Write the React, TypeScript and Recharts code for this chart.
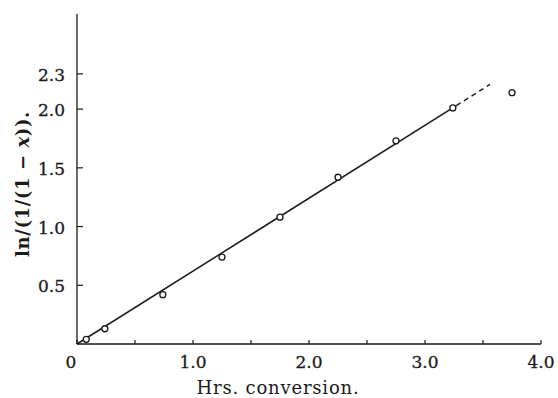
import React from "react";
import { Scatter, ScatterChart, XAxis, YAxis } from "recharts";

// measured points
const hours = [0.08, 0.24, 0.74, 1.25, 1.75, 2.25, 2.75, 3.24, 3.75];
const lnValues = [0.04, 0.13, 0.42, 0.74, 1.08, 1.42, 1.73, 2.01, 2.14];

// fitted line: solid part, then dashed extrapolation
const fitHours = [0, 3.27];
const fitValues = [0, 2.03];
const extHours = [3.27, 3.56];
const extValues = [2.03, 2.21];

const xTicks = [0, 0.5, 1, 1.5, 2, 2.5, 3, 3.5, 4];
const xLabels = ["0", "", "1.0", "", "2.0", "", "3.0", "", "4.0"];
const yTicks = [0.5, 1, 1.5, 2, 2.3];
const yLabels = ["0.5", "1.0", "1.5", "2.0", "2.3"];

const INK = "#1a1a1a";
const FONT = "'DejaVu Serif', serif";

const points = hours.map((x, i) => ({ x, y: lnValues[i] }));
const fit = fitHours.map((x, i) => ({ x, y: fitValues[i] }));
const ext = extHours.map((x, i) => ({ x, y: extValues[i] }));

const XTick = (props: any) => {
  const { x, y, payload } = props;
  const idx = xTicks.indexOf(payload.value);
  const label = idx >= 0 ? xLabels[idx] : "";
  return (
    <g>
      <line x1={x} x2={x} y1={y} y2={y - 4} stroke={INK} strokeWidth={1.2} />
      {label && (
        <text
          x={payload.value === 0 ? x - 6 : x}
          y={y + 18}
          textAnchor="middle"
          dominantBaseline="central"
          fontSize={17}
          fontFamily={FONT}
          fill={INK}
          stroke={INK}
          strokeWidth={0.3}
        >
          {label}
        </text>
      )}
    </g>
  );
};

const YTick = (props: any) => {
  const { x, y, payload } = props;
  const idx = yTicks.indexOf(payload.value);
  return (
    <g>
      <line x1={x} x2={x + 6} y1={y} y2={y} stroke={INK} strokeWidth={1.2} />
      <text
        x={x - 12}
        y={y + 1}
        textAnchor="end"
        dominantBaseline="central"
        fontSize={17}
        fontFamily={FONT}
        fill={INK}
        stroke={INK}
        strokeWidth={0.3}
      >
        {yLabels[idx]}
      </text>
    </g>
  );
};

const Dot = (props: any) => (
  <circle cx={props.cx} cy={props.cy} r={3} fill="#fff" stroke={INK} strokeWidth={1.3} />
);

const NoDot = () => <g />;

export default function App() {
  return (
    <div style={{ position: "absolute", left: 0, top: 0, background: "#fff" }}>
      <ScatterChart width={558} height={398} margin={{ top: 14, right: 17, bottom: 0, left: 0 }}>
        <XAxis
          type="number"
          dataKey="x"
          domain={[0, 4]}
          ticks={xTicks}
          interval={0}
          height={54}
          tickSize={0}
          tickMargin={0}
          tickLine={false}
          axisLine={{ stroke: INK, strokeWidth: 1.3 }}
          tick={<XTick />}
        />
        <YAxis
          type="number"
          dataKey="y"
          domain={[0, 2.81]}
          ticks={yTicks}
          interval={0}
          width={77}
          tickSize={0}
          tickMargin={0}
          tickLine={false}
          axisLine={{ stroke: INK, strokeWidth: 1.3 }}
          tick={<YTick />}
        />
        <Scatter
          data={fit}
          line={{ stroke: INK, strokeWidth: 1.5 }}
          shape={<NoDot />}
          isAnimationActive={false}
        />
        <Scatter
          data={ext}
          line={{ stroke: INK, strokeWidth: 1.5, strokeDasharray: "5 4" }}
          shape={<NoDot />}
          isAnimationActive={false}
        />
        <Scatter data={points} shape={<Dot />} isAnimationActive={false} />
      </ScatterChart>
      <svg
        width={558}
        height={398}
        style={{ position: "absolute", left: 0, top: 0, pointerEvents: "none" }}
      >
        <text
          x={278}
          y={394}
          textAnchor="middle"
          fontSize={18}
          letterSpacing={0.8}
          fontFamily={FONT}
          fill={INK}
        >
          Hrs. conversion.
        </text>
        <text
          transform="translate(22,184) rotate(-90)"
          textAnchor="middle"
          dominantBaseline="central"
          fontSize={18}
          fontWeight="bold"
          letterSpacing={0.6}
          fontFamily={FONT}
          fill={INK}
        >
          ln/(1/(1 − <tspan fontStyle="italic">x</tspan>)).
        </text>
      </svg>
    </div>
  );
}
